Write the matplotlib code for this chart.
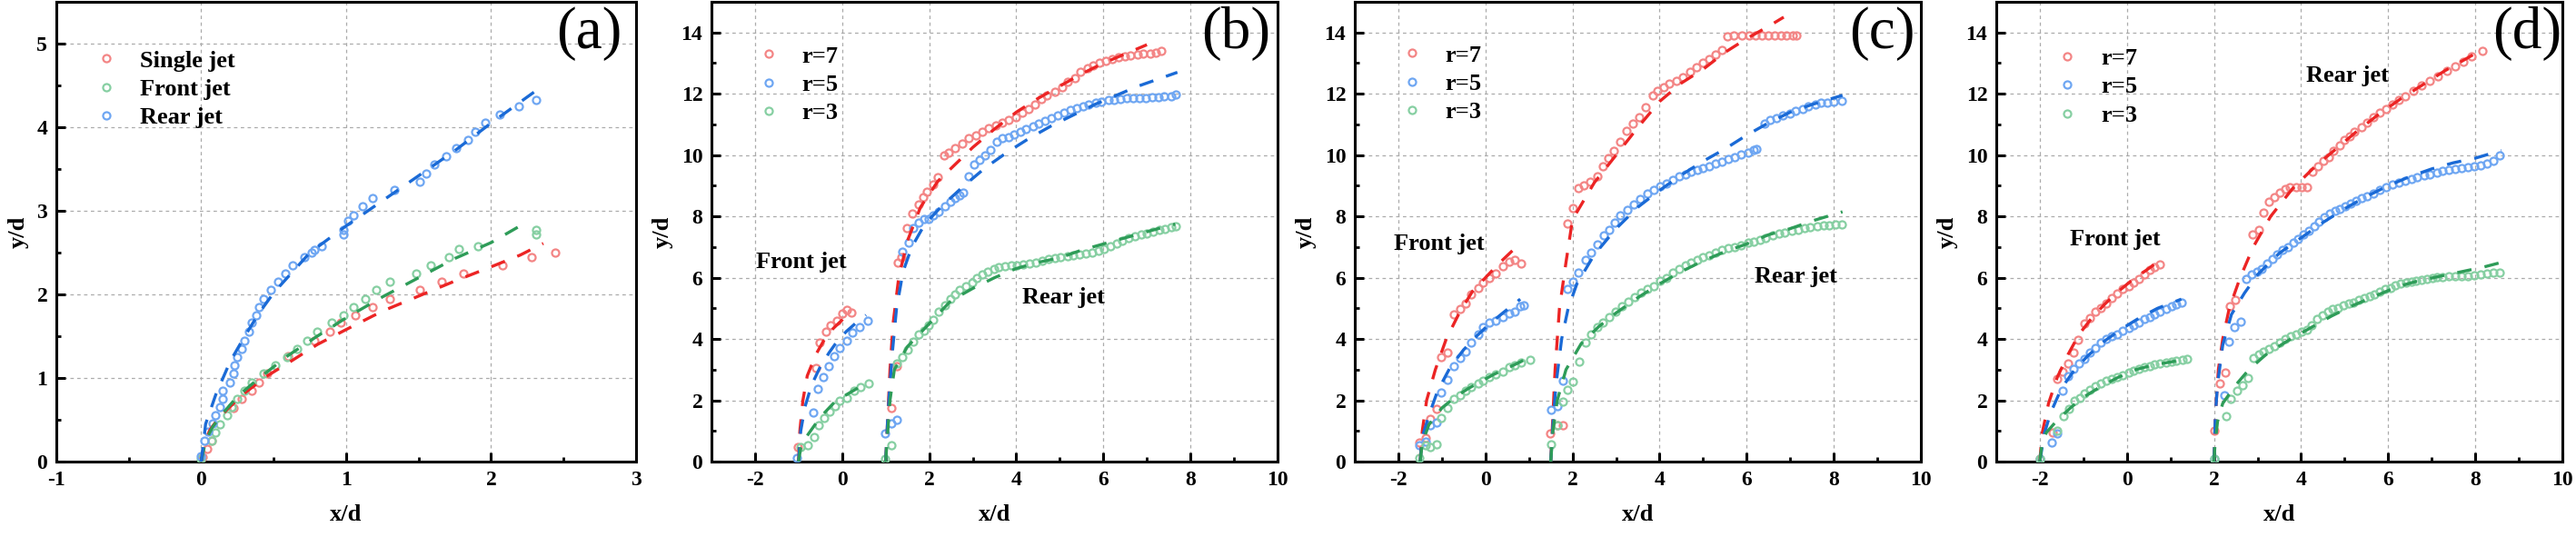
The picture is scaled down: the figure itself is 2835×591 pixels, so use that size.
import numpy as np
import matplotlib.pyplot as plt
from matplotlib.ticker import MultipleLocator

plt.rcParams['font.family'] = ['Liberation Serif', 'DejaVu Serif']
plt.rcParams['font.weight'] = 'bold'
plt.rcParams['axes.unicode_minus'] = False

# ---------------- panel (a) ----------------
a_single = [(0.01, 0.05), (0.04, 0.15), (0.075, 0.25), (0.225, 0.64), (0.28, 0.75), (0.35, 0.85),
            (0.40, 0.95), (0.457, 1.05), (0.60, 1.26), (0.78, 1.45), (0.885, 1.55), (0.96, 1.66),
            (1.06, 1.75), (1.18, 1.85), (1.30, 1.95), (1.51, 2.05), (1.66, 2.15), (1.81, 2.25),
            (2.08, 2.35), (2.28, 2.45), (2.44, 2.5)]
a_single_fit = [(0.0, 0.0), (0.02, 0.22), (0.06, 0.38), (0.12, 0.52), (0.2, 0.66), (0.3, 0.82),
                (0.45, 1.02), (0.6, 1.18), (0.8, 1.4), (1.0, 1.58), (1.25, 1.8), (1.5, 1.98),
                (1.75, 2.16), (2.0, 2.33), (2.2, 2.47), (2.36, 2.61)]
a_front = [(0.0, 0.03), (0.07, 0.25), (0.1, 0.35), (0.13, 0.45), (0.18, 0.55), (0.21, 0.65),
           (0.25, 0.75), (0.30, 0.85), (0.35, 0.95), (0.43, 1.05), (0.51, 1.15), (0.59, 1.25),
           (0.66, 1.35), (0.73, 1.45), (0.80, 1.55), (0.90, 1.66), (0.98, 1.75), (1.05, 1.85),
           (1.13, 1.95), (1.21, 2.05), (1.30, 2.15), (1.48, 2.25), (1.58, 2.35), (1.71, 2.45),
           (1.78, 2.54), (1.91, 2.58), (2.31, 2.72), (2.31, 2.77)]
a_front_fit = [(0.0, 0.0), (0.03, 0.25), (0.08, 0.42), (0.15, 0.58), (0.25, 0.78), (0.4, 1.0),
               (0.6, 1.27), (0.8, 1.5), (1.0, 1.72), (1.25, 1.97), (1.5, 2.2), (1.75, 2.43),
               (2.0, 2.62), (2.2, 2.82)]
a_rear = [(0.0, 0.07), (0.02, 0.25), (0.05, 0.36), (0.08, 0.46), (0.1, 0.55), (0.13, 0.65),
          (0.15, 0.75), (0.15, 0.85), (0.2, 0.95), (0.225, 1.05), (0.23, 1.15), (0.25, 1.25),
          (0.28, 1.35), (0.30, 1.45), (0.33, 1.55), (0.35, 1.66), (0.38, 1.75), (0.40, 1.85),
          (0.43, 1.95), (0.48, 2.05), (0.53, 2.15), (0.58, 2.25), (0.63, 2.35), (0.71, 2.45),
          (0.76, 2.5), (0.78, 2.53), (0.83, 2.58), (0.98, 2.72), (0.98, 2.77), (1.01, 2.88),
          (1.05, 2.95), (1.11, 3.05), (1.18, 3.15), (1.33, 3.25), (1.51, 3.35), (1.55, 3.45),
          (1.61, 3.55), (1.69, 3.65), (1.76, 3.75), (1.84, 3.85), (1.89, 3.95), (1.96, 4.05),
          (2.06, 4.15), (2.19, 4.25), (2.31, 4.33)]
a_rear_fit = [(0.0, 0.0), (0.03, 0.45), (0.1, 0.8), (0.2, 1.2), (0.3, 1.5), (0.4, 1.78),
              (0.5, 2.02), (0.75, 2.5), (1.0, 2.82), (1.25, 3.12), (1.5, 3.42), (1.75, 3.72),
              (2.0, 4.05), (2.32, 4.45)]

# ---------------- panel (b) ----------------
b_r7_front = [(-1.01, 0.47), (-0.61, 3.04), (-0.51, 3.88), (-0.37, 4.24), (-0.27, 4.44),
              (-0.12, 4.61), (0.0, 4.83), (0.10, 4.94), (0.21, 4.87)]
b_r7_front_fit = [(-1.0, 0.0), (-0.97, 1.0), (-0.9, 2.0), (-0.8, 2.8), (-0.6, 3.5), (-0.4, 4.0),
                  (-0.2, 4.35), (0.0, 4.62), (0.15, 4.85)]
b_r5_front = [(-1.03, 0.13), (-0.67, 1.59), (-0.55, 2.37), (-0.43, 2.76), (-0.31, 3.12),
              (-0.19, 3.43), (-0.05, 3.71), (0.1, 3.94), (0.24, 4.22), (0.41, 4.38), (0.58, 4.61)]
b_r5_front_fit = [(-1.0, 0.0), (-0.95, 1.0), (-0.85, 1.8), (-0.7, 2.5), (-0.5, 3.1), (-0.3, 3.55),
                  (-0.1, 3.95), (0.1, 4.25), (0.3, 4.5), (0.55, 4.78)]
b_r3_front = [(-0.96, 0.47), (-0.79, 0.53), (-0.65, 0.81), (-0.53, 1.20), (-0.41, 1.42),
              (-0.29, 1.64), (-0.17, 1.81), (-0.05, 1.98), (0.1, 2.09), (0.27, 2.32),
              (0.43, 2.43), (0.61, 2.54)]
b_r3_front_fit = [(-1.0, 0.0), (-0.95, 0.45), (-0.8, 0.85), (-0.6, 1.25), (-0.4, 1.6), (-0.2, 1.9),
                  (0.0, 2.1), (0.3, 2.35), (0.6, 2.6)]
b_r7_rear = [(1.13, 1.76), (1.25, 3.12), (1.27, 6.5), (1.37, 6.66), (1.49, 7.63), (1.62, 8.08),
             (1.75, 8.38), (1.86, 8.64), (1.95, 8.8), (2.09, 9.03), (2.19, 9.28), (2.34, 9.98),
             (2.45, 10.09), (2.6, 10.23), (2.76, 10.37), (2.91, 10.54), (3.08, 10.65),
             (3.22, 10.76), (3.37, 10.87), (3.53, 10.98), (3.68, 11.07), (3.83, 11.15),
             (3.99, 11.23), (4.13, 11.38), (4.28, 11.51), (4.42, 11.66), (4.57, 11.82),
             (4.71, 11.96), (4.88, 12.07), (5.05, 12.21), (5.19, 12.38), (5.34, 12.52),
             (5.48, 12.72), (5.63, 12.83), (5.77, 12.92), (5.91, 13.0), (6.06, 13.08),
             (6.2, 13.14), (6.35, 13.19), (6.49, 13.22), (6.63, 13.26), (6.78, 13.28),
             (6.92, 13.30), (7.07, 13.31), (7.21, 13.33), (7.33, 13.39)]
b_r7_rear_fit = [(1.0, 0.0), (1.05, 1.5), (1.1, 3.0), (1.17, 4.5), (1.3, 6.0), (1.5, 7.2), (1.8, 8.3),
                 (2.2, 9.15), (2.6, 9.7), (3.0, 10.25), (3.5, 10.85), (4.0, 11.4), (4.5, 11.85),
                 (5.0, 12.25), (5.5, 12.65), (6.0, 13.0), (6.5, 13.3), (7.0, 13.6)]
b_r5_rear = [(0.99, 0.92), (1.13, 1.25), (1.25, 1.36), (1.38, 6.85), (1.52, 7.13), (1.63, 7.63),
             (1.75, 7.8), (1.88, 7.91), (1.99, 7.93), (2.09, 8.02), (2.21, 8.15), (2.36, 8.32),
             (2.48, 8.47), (2.6, 8.6), (2.69, 8.69), (2.79, 8.78), (2.91, 9.31), (3.03, 9.7),
             (3.15, 9.83), (3.29, 9.98), (3.41, 10.18), (3.56, 10.43), (3.68, 10.54),
             (3.83, 10.59), (3.94, 10.68), (4.09, 10.76), (4.23, 10.85), (4.38, 10.95),
             (4.52, 11.04), (4.66, 11.13), (4.81, 11.21), (4.95, 11.29), (5.1, 11.38),
             (5.24, 11.47), (5.38, 11.54), (5.53, 11.6), (5.67, 11.66), (5.82, 11.71),
             (5.96, 11.74), (6.11, 11.79), (6.25, 11.8), (6.39, 11.82), (6.54, 11.85),
             (6.68, 11.86), (6.83, 11.86), (6.97, 11.87), (7.12, 11.88), (7.26, 11.9),
             (7.4, 11.91), (7.55, 11.93), (7.66, 11.98)]
b_r5_rear_fit = [(1.0, 0.0), (1.05, 1.5), (1.15, 3.5), (1.25, 5.0), (1.4, 6.2), (1.6, 7.0),
                 (1.9, 7.75), (2.3, 8.35), (2.8, 9.0), (3.3, 9.6), (3.8, 10.1), (4.3, 10.55),
                 (4.8, 10.95), (5.3, 11.3), (5.8, 11.65), (6.3, 11.95), (6.8, 12.25),
                 (7.3, 12.5), (7.7, 12.7)]
b_r3_rear = [(0.99, 0.08), (1.13, 0.53), (1.25, 3.19), (1.38, 3.4), (1.5, 3.64), (1.63, 3.9),
             (1.75, 4.16), (1.88, 4.27), (1.99, 4.45), (2.1, 4.62), (2.21, 4.9), (2.36, 5.1),
             (2.48, 5.3), (2.6, 5.45), (2.7, 5.6), (2.85, 5.72), (2.98, 5.85), (3.1, 5.98),
             (3.22, 6.1), (3.35, 6.2), (3.48, 6.28), (3.6, 6.33), (3.74, 6.38), (3.88, 6.4),
             (4.02, 6.4), (4.16, 6.42), (4.3, 6.45), (4.45, 6.5), (4.6, 6.55), (4.74, 6.6),
             (4.88, 6.65), (5.02, 6.68), (5.17, 6.7), (5.31, 6.73), (5.46, 6.75), (5.6, 6.78),
             (5.74, 6.82), (5.88, 6.87), (6.02, 6.95), (6.16, 7.03), (6.3, 7.12), (6.44, 7.2),
             (6.58, 7.28), (6.72, 7.35), (6.86, 7.4), (7.0, 7.45), (7.14, 7.5), (7.28, 7.55),
             (7.42, 7.6), (7.56, 7.65), (7.66, 7.68)]
b_r3_rear_fit = [(1.0, 0.0), (1.05, 1.0), (1.1, 2.0), (1.2, 3.0), (1.5, 3.75), (2.0, 4.5),
                 (2.5, 5.25), (3.0, 5.65), (3.5, 6.0), (4.0, 6.3), (4.5, 6.5), (5.0, 6.65),
                 (5.5, 6.9), (6.0, 7.1), (6.5, 7.3), (7.0, 7.5), (7.65, 7.75)]

# ---------------- panel (c) ----------------
c_r7_front = [(-1.52, 0.62), (-1.38, 0.77), (-1.26, 1.4), (-1.13, 1.72), (-1.01, 3.4),
              (-0.88, 3.55), (-0.73, 4.8), (-0.58, 4.97), (-0.45, 5.17), (-0.32, 5.45),
              (-0.17, 5.67), (-0.06, 5.84), (0.09, 5.98), (0.23, 6.15), (0.4, 6.38),
              (0.55, 6.51), (0.67, 6.57), (0.81, 6.45)]
c_r7_front_fit = [(-1.5, 0.0), (-1.45, 1.0), (-1.35, 2.0), (-1.15, 3.0), (-0.9, 4.0), (-0.6, 4.85),
                  (-0.3, 5.55), (0.0, 6.0), (0.3, 6.45), (0.67, 6.95)]
c_r5_front = [(-1.52, 0.53), (-1.38, 0.64), (-1.26, 1.2), (-1.13, 1.29), (-1.01, 2.26),
              (-0.88, 2.67), (-0.73, 3.1), (-0.58, 3.38), (-0.45, 3.6), (-0.32, 3.88),
              (-0.17, 4.16), (-0.06, 4.38), (0.09, 4.55), (0.23, 4.61), (0.4, 4.72),
              (0.55, 4.83), (0.67, 4.89), (0.79, 5.06), (0.88, 5.11)]
c_r5_front_fit = [(-1.5, 0.0), (-1.45, 0.8), (-1.3, 1.5), (-1.1, 2.3), (-0.8, 3.1), (-0.5, 3.65),
                  (-0.2, 4.1), (0.1, 4.5), (0.4, 4.85), (0.8, 5.3)]
c_r3_front = [(-1.52, 0.13), (-1.38, 0.53), (-1.26, 0.47), (-1.13, 0.55), (-1.01, 1.42),
              (-0.88, 1.76), (-0.73, 2.04), (-0.58, 2.15), (-0.45, 2.32), (-0.32, 2.43),
              (-0.17, 2.54), (-0.06, 2.65), (0.09, 2.76), (0.23, 2.85), (0.4, 2.95),
              (0.55, 3.08), (0.67, 3.15), (0.81, 3.23), (1.03, 3.32)]
c_r3_front_fit = [(-1.5, 0.0), (-1.45, 0.6), (-1.3, 1.2), (-1.0, 1.75), (-0.7, 2.1), (-0.4, 2.38),
                  (-0.1, 2.62), (0.2, 2.85), (0.5, 3.05), (0.8, 3.25), (1.05, 3.45)]
c_r7_rear = [(1.49, 0.92), (1.65, 1.2), (1.77, 1.2), (1.89, 7.77), (2.01, 8.27), (2.14, 8.92),
             (2.25, 9.0), (2.4, 9.14), (2.57, 9.31), (2.69, 9.62), (2.83, 9.9), (2.95, 10.15),
             (3.1, 10.43), (3.24, 10.78), (3.38, 11.04), (3.53, 11.23), (3.67, 11.57),
             (3.84, 11.96), (3.94, 12.1), (4.09, 12.21), (4.23, 12.33), (4.38, 12.42),
             (4.54, 12.55), (4.7, 12.72), (4.84, 12.86), (5.0, 13.0), (5.14, 13.14),
             (5.29, 13.28), (5.43, 13.42), (5.56, 13.86), (5.7, 13.89), (5.88, 13.89),
             (6.06, 13.89), (6.2, 13.89), (6.35, 13.9), (6.49, 13.9), (6.63, 13.9),
             (6.78, 13.9), (6.92, 13.9), (7.06, 13.9), (7.15, 13.91)]
c_r7_rear_fit = [(1.5, 0.0), (1.55, 1.5), (1.6, 3.0), (1.7, 5.0), (1.85, 6.5), (2.0, 7.9),
                 (2.5, 9.1), (3.0, 10.0), (3.5, 10.9), (4.0, 11.75), (4.5, 12.35), (5.0, 12.8),
                 (5.5, 13.35), (6.0, 13.8), (6.5, 14.2), (6.85, 14.5)]
c_r5_rear = [(1.51, 1.7), (1.65, 1.81), (1.77, 2.65), (1.89, 5.62), (2.01, 5.87), (2.13, 6.17),
             (2.29, 6.57), (2.42, 6.82), (2.57, 7.1), (2.71, 7.37), (2.84, 7.57), (2.96, 7.8),
             (3.1, 8.02), (3.26, 8.22), (3.41, 8.39), (3.56, 8.56), (3.72, 8.75), (3.87, 8.86),
             (4.01, 8.97), (4.15, 9.08), (4.3, 9.19), (4.44, 9.31), (4.59, 9.36), (4.73, 9.47),
             (4.86, 9.53), (5.0, 9.59), (5.14, 9.64), (5.29, 9.72), (5.43, 9.79), (5.58, 9.87),
             (5.72, 9.94), (5.87, 10.03), (6.03, 10.09), (6.17, 10.17), (6.23, 10.2),
             (6.41, 11.04), (6.54, 11.15), (6.68, 11.21), (6.83, 11.29), (6.99, 11.35),
             (7.13, 11.43), (7.28, 11.51), (7.42, 11.6), (7.57, 11.66), (7.71, 11.71),
             (7.86, 11.71), (8.0, 11.73), (8.19, 11.77)]
c_r5_rear_fit = [(1.5, 0.0), (1.55, 1.2), (1.62, 2.5), (1.75, 4.0), (1.9, 5.0), (2.1, 5.8),
                 (2.5, 6.75), (3.0, 7.6), (3.5, 8.3), (4.0, 8.85), (4.5, 9.35), (5.0, 9.8),
                 (5.5, 10.2), (6.0, 10.65), (6.5, 11.05), (7.0, 11.4), (7.5, 11.65), (8.2, 11.95)]
c_r3_rear = [(1.51, 0.55), (1.65, 1.2), (1.77, 1.96), (1.89, 2.34), (2.01, 2.6), (2.15, 3.27),
             (2.3, 3.88), (2.42, 4.16), (2.57, 4.38), (2.7, 4.55), (2.84, 4.72), (2.98, 4.89),
             (3.13, 5.08), (3.29, 5.22), (3.43, 5.36), (3.58, 5.5), (3.72, 5.62), (3.87, 5.73),
             (4.01, 5.89), (4.15, 6.0), (4.3, 6.17), (4.44, 6.29), (4.59, 6.4), (4.73, 6.48),
             (4.86, 6.57), (5.0, 6.66), (5.14, 6.73), (5.29, 6.81), (5.43, 6.9), (5.58, 6.96),
             (5.72, 7.01), (5.87, 7.07), (6.03, 7.13), (6.17, 7.18), (6.3, 7.24), (6.44, 7.29),
             (6.59, 7.37), (6.75, 7.44), (6.88, 7.48), (7.04, 7.54), (7.18, 7.57), (7.33, 7.61),
             (7.45, 7.64), (7.62, 7.67), (7.76, 7.71), (7.9, 7.72), (8.03, 7.73), (8.19, 7.74)]
c_r3_rear_fit = [(1.5, 0.0), (1.55, 1.0), (1.65, 2.0), (1.85, 3.0), (2.2, 3.85), (2.6, 4.4),
                 (3.0, 4.85), (3.5, 5.35), (4.0, 5.8), (4.5, 6.2), (5.0, 6.55), (5.5, 6.85),
                 (6.0, 7.1), (6.5, 7.4), (7.0, 7.6), (7.5, 7.85), (8.2, 8.15)]

# ---------------- panel (d) ----------------
d_r7_front = [(-2.0, 0.08), (-1.71, 0.95), (-1.6, 2.71), (-1.47, 2.93), (-1.36, 3.19),
              (-1.23, 3.55), (-1.12, 3.97), (-0.97, 4.5), (-0.86, 4.69), (-0.73, 4.89),
              (-0.61, 5.02), (-0.47, 5.17), (-0.35, 5.34), (-0.22, 5.47), (-0.09, 5.62),
              (0.04, 5.73), (0.15, 5.84), (0.28, 5.95), (0.4, 6.12), (0.52, 6.25),
              (0.64, 6.34), (0.76, 6.43)]
d_r7_front_fit = [(-2.0, 0.0), (-1.95, 0.9), (-1.8, 1.9), (-1.6, 2.75), (-1.35, 3.5), (-1.1, 4.15),
                  (-0.8, 4.7), (-0.5, 5.15), (-0.2, 5.55), (0.1, 5.9), (0.4, 6.2), (0.75, 6.55)]
d_r5_front = [(-2.0, 0.08), (-1.73, 0.61), (-1.6, 0.91), (-1.47, 2.32), (-1.35, 2.79),
              (-1.23, 3.01), (-1.1, 3.19), (-0.97, 3.34), (-0.85, 3.55), (-0.73, 3.71),
              (-0.61, 3.88), (-0.47, 3.99), (-0.35, 4.08), (-0.22, 4.16), (-0.09, 4.27),
              (0.04, 4.35), (0.15, 4.46), (0.28, 4.55), (0.4, 4.64), (0.52, 4.72), (0.64, 4.8),
              (0.76, 4.89), (0.9, 4.98), (1.03, 5.06), (1.14, 5.13), (1.26, 5.2)]
d_r5_front_fit = [(-2.0, 0.0), (-1.9, 0.9), (-1.75, 1.6), (-1.5, 2.4), (-1.2, 3.0), (-0.9, 3.45),
                  (-0.5, 3.95), (-0.1, 4.35), (0.3, 4.7), (0.7, 5.0), (1.25, 5.3)]
d_r3_front = [(-2.0, 0.08), (-1.6, 1.0), (-1.45, 1.48), (-1.33, 1.73), (-1.21, 1.98),
              (-1.09, 2.09), (-0.97, 2.23), (-0.85, 2.34), (-0.73, 2.45), (-0.61, 2.54),
              (-0.47, 2.63), (-0.35, 2.7), (-0.22, 2.76), (-0.09, 2.82), (0.04, 2.9),
              (0.15, 2.96), (0.28, 3.02), (0.4, 3.08), (0.52, 3.12), (0.64, 3.17), (0.76, 3.21),
              (0.9, 3.24), (1.03, 3.27), (1.14, 3.29), (1.27, 3.32), (1.38, 3.36)]
d_r3_front_fit = [(-2.0, 0.0), (-1.95, 0.6), (-1.85, 0.95), (-1.6, 1.35), (-1.3, 1.75), (-1.0, 2.1),
                  (-0.6, 2.45), (-0.2, 2.75), (0.2, 3.0), (0.6, 3.15), (1.0, 3.25), (1.4, 3.35)]
d_r7_rear = [(2.01, 1.0), (2.13, 2.54), (2.25, 2.9), (2.37, 5.06), (2.49, 5.28), (2.88, 7.4),
             (3.02, 7.57), (3.13, 8.13), (3.26, 8.47), (3.38, 8.64), (3.5, 8.78), (3.63, 8.88),
             (3.75, 8.94), (3.88, 8.96), (4.01, 8.96), (4.13, 8.94), (4.27, 9.47), (4.39, 9.64),
             (4.51, 9.81), (4.63, 9.94), (4.75, 10.15), (4.88, 10.31), (4.99, 10.48),
             (5.12, 10.62), (5.23, 10.76), (5.38, 10.91), (5.52, 11.06), (5.66, 11.24),
             (5.81, 11.38), (5.95, 11.51), (6.1, 11.66), (6.24, 11.8), (6.38, 11.93),
             (6.58, 12.1), (6.77, 12.27), (6.96, 12.42), (7.15, 12.58), (7.35, 12.74),
             (7.54, 12.89), (7.73, 13.05), (7.92, 13.22), (8.16, 13.41)]
d_r7_rear_fit = [(2.0, 0.0), (2.03, 1.5), (2.1, 3.0), (2.2, 4.0), (2.35, 5.0), (2.6, 6.0), (2.9, 7.0),
                 (3.3, 8.0), (3.8, 8.9), (4.3, 9.6), (4.8, 10.2), (5.3, 10.8), (5.8, 11.35),
                 (6.3, 11.85), (6.8, 12.3), (7.3, 12.75), (7.8, 13.15), (8.1, 13.4)]
d_r5_rear = [(2.01, 0.08), (2.23, 2.15), (2.35, 3.91), (2.47, 4.38), (2.61, 4.57), (2.73, 5.95),
             (2.86, 6.12), (2.98, 6.21), (3.1, 6.29), (3.21, 6.45), (3.34, 6.6), (3.45, 6.76),
             (3.58, 6.9), (3.69, 7.01), (3.82, 7.15), (3.93, 7.26), (4.06, 7.4), (4.17, 7.54),
             (4.3, 7.68), (4.41, 7.82), (4.54, 7.96), (4.65, 8.08), (4.78, 8.17), (4.89, 8.24),
             (5.02, 8.33), (5.13, 8.41), (5.26, 8.52), (5.38, 8.6), (5.52, 8.67), (5.66, 8.75),
             (5.81, 8.86), (5.95, 8.94), (6.1, 9.03), (6.24, 9.11), (6.38, 9.17), (6.53, 9.23),
             (6.67, 9.27), (6.82, 9.33), (6.96, 9.38), (7.11, 9.44), (7.25, 9.5), (7.39, 9.53),
             (7.54, 9.55), (7.68, 9.59), (7.83, 9.61), (7.97, 9.63), (8.12, 9.66), (8.26, 9.72),
             (8.41, 9.81), (8.55, 9.98)]
d_r5_rear_fit = [(2.0, 0.0), (2.03, 1.5), (2.08, 2.5), (2.2, 3.8), (2.4, 4.8), (2.7, 5.5), (3.0, 6.1),
                 (3.5, 6.8), (4.0, 7.3), (4.5, 7.8), (5.0, 8.25), (5.5, 8.65), (6.0, 9.0),
                 (6.5, 9.3), (7.0, 9.55), (7.5, 9.75), (8.0, 9.9), (8.6, 10.15)]
d_r3_rear = [(2.01, 0.08), (2.27, 1.48), (2.39, 2.04), (2.52, 2.32), (2.65, 2.48), (2.78, 2.73),
             (2.9, 3.38), (3.02, 3.49), (3.14, 3.6), (3.27, 3.68), (3.38, 3.77), (3.52, 3.88),
             (3.64, 3.99), (3.77, 4.08), (3.88, 4.16), (4.01, 4.24), (4.13, 4.31), (4.25, 4.44),
             (4.37, 4.64), (4.49, 4.78), (4.61, 4.89), (4.73, 4.97), (4.85, 5.02), (4.97, 5.09),
             (5.09, 5.15), (5.21, 5.2), (5.33, 5.27), (5.45, 5.34), (5.57, 5.39), (5.69, 5.45),
             (5.81, 5.54), (5.93, 5.62), (6.05, 5.67), (6.17, 5.75), (6.29, 5.81), (6.41, 5.84),
             (6.53, 5.87), (6.65, 5.89), (6.77, 5.92), (6.89, 5.95), (7.01, 5.98), (7.13, 6.01),
             (7.25, 6.03), (7.39, 6.04), (7.54, 6.05), (7.68, 6.06), (7.83, 6.06), (7.97, 6.07),
             (8.12, 6.12), (8.26, 6.14), (8.41, 6.16), (8.55, 6.17)]
d_r3_rear_fit = [(2.0, 0.0), (2.02, 0.5), (2.08, 1.3), (2.2, 1.9), (2.5, 2.5), (2.8, 3.0), (3.2, 3.5),
                 (3.7, 3.95), (4.2, 4.35), (4.7, 4.75), (5.2, 5.1), (5.7, 5.4), (6.2, 5.7),
                 (6.7, 5.9), (7.2, 6.05), (7.7, 6.2), (8.2, 6.35), (8.6, 6.5)]

# colours: light open circles, saturated dashed fits
marker_col = {'r': '#F38585', 'b': '#6EA6F2', 'g': '#86CFA2'}
line_col = {'r': '#EC2424', 'b': '#1A6AD6', 'g': '#2E9C58'}

fig = plt.figure(figsize=(28.35, 5.91), dpi=100)
bottom, height = 0.1404, 0.8562
lefts = [0.02187, 0.27619, 0.52593, 0.77496]
widths = [0.22504, 0.21975, 0.21975, 0.21975]
axes = [fig.add_axes([l, bottom, w, height]) for l, w in zip(lefts, widths)]


def pts(p):
    arr = np.array(p)
    return arr[:, 0], arr[:, 1]


def draw(ax, data, fit, c, label=None):
    x, y = pts(data)
    ax.plot(x, y, 'o', mfc='none', mec=marker_col[c], ms=5.8, mew=1.6, label=label, zorder=3)
    fx, fy = pts(fit)
    ax.plot(fx, fy, color=line_col[c], lw=2.4, dashes=(4.8, 4.4), zorder=4)


def style(ax, xlim, ylim, xmaj, ymaj, letter, letter_x):
    ax.set_xlim(*xlim)
    ax.set_ylim(*ylim)
    ax.xaxis.set_major_locator(MultipleLocator(xmaj))
    ax.xaxis.set_minor_locator(MultipleLocator(xmaj / 2))
    ax.yaxis.set_major_locator(MultipleLocator(ymaj))
    ax.yaxis.set_minor_locator(MultipleLocator(ymaj / 2))
    ax.tick_params(which='major', direction='in', length=7.2, width=2.2, labelsize=17, pad=7)
    ax.tick_params(which='minor', direction='in', length=3.6, width=2.0)
    for s in ax.spines.values():
        s.set_linewidth(2.2)
    ax.grid(True, which='major', color='#ABABAB', linestyle=(0, (3, 3)), linewidth=0.9)
    ax.set_axisbelow(True)
    ax.set_xlabel('x/d', fontsize=19, fontweight='bold', labelpad=12)
    ax.set_ylabel('y/d', fontsize=19, fontweight='bold', labelpad=6)
    ax.text(letter_x, 0.99, letter, transform=ax.transAxes, ha='right', va='top',
            fontsize=47, fontweight='normal')


def legend(ax, anchor):
    ax.legend(loc='upper left', bbox_to_anchor=anchor, frameon=False, fontsize=19,
              handlelength=2.0, handletextpad=0.4, labelspacing=0.3,
              borderaxespad=0, borderpad=0)


# (a)
ax = axes[0]
draw(ax, a_single, a_single_fit, 'r', 'Single jet')
draw(ax, a_front, a_front_fit, 'g', 'Front jet')
draw(ax, a_rear, a_rear_fit, 'b', 'Rear jet')
style(ax, (-1, 3), (0, 5.5), 1, 1, '(a)', 0.9765)
legend(ax, (0.0455, 0.895))

# (b), (c), (d): three velocity ratios each
panels = [
    (axes[1], '(b)', 0.987, [(b_r7_front, b_r7_front_fit, b_r7_rear, b_r7_rear_fit, 'r', 'r=7'),
                             (b_r5_front, b_r5_front_fit, b_r5_rear, b_r5_rear_fit, 'b', 'r=5'),
                             (b_r3_front, b_r3_front_fit, b_r3_rear, b_r3_rear_fit, 'g', 'r=3')],
     (0.058, 0.905), (-0.93, 6.51), (5.08, 5.36)),
    (axes[2], '(c)', 0.99, [(c_r7_front, c_r7_front_fit, c_r7_rear, c_r7_rear_fit, 'r', 'r=7'),
                            (c_r5_front, c_r5_front_fit, c_r5_rear, c_r5_rear_fit, 'b', 'r=5'),
                            (c_r3_front, c_r3_front_fit, c_r3_rear, c_r3_rear_fit, 'g', 'r=3')],
     (0.058, 0.907), (-1.06, 7.1), (7.13, 6.03)),
    (axes[3], '(d)', 0.999, [(d_r7_front, d_r7_front_fit, d_r7_rear, d_r7_rear_fit, 'r', 'r=7'),
                             (d_r5_front, d_r5_front_fit, d_r5_rear, d_r5_rear_fit, 'b', 'r=5'),
                             (d_r3_front, d_r3_front_fit, d_r3_rear, d_r3_rear_fit, 'g', 'r=3')],
     (0.083, 0.900), (-0.28, 7.26), (5.07, 12.58)),
]

for ax, letter, letter_x, series, anchor, front_pos, rear_pos in panels:
    for front, front_fit, rear, rear_fit, c, lab in series:
        draw(ax, front, front_fit, c, lab)
        draw(ax, rear, rear_fit, c)
    style(ax, (-3, 10), (0, 15), 2, 2, letter, letter_x)
    legend(ax, anchor)
    ax.text(*front_pos, 'Front jet', fontsize=19, fontweight='bold', ha='center', va='center')
    ax.text(*rear_pos, 'Rear jet', fontsize=19, fontweight='bold', ha='center', va='center')

fig.savefig('out.png', dpi=100)
